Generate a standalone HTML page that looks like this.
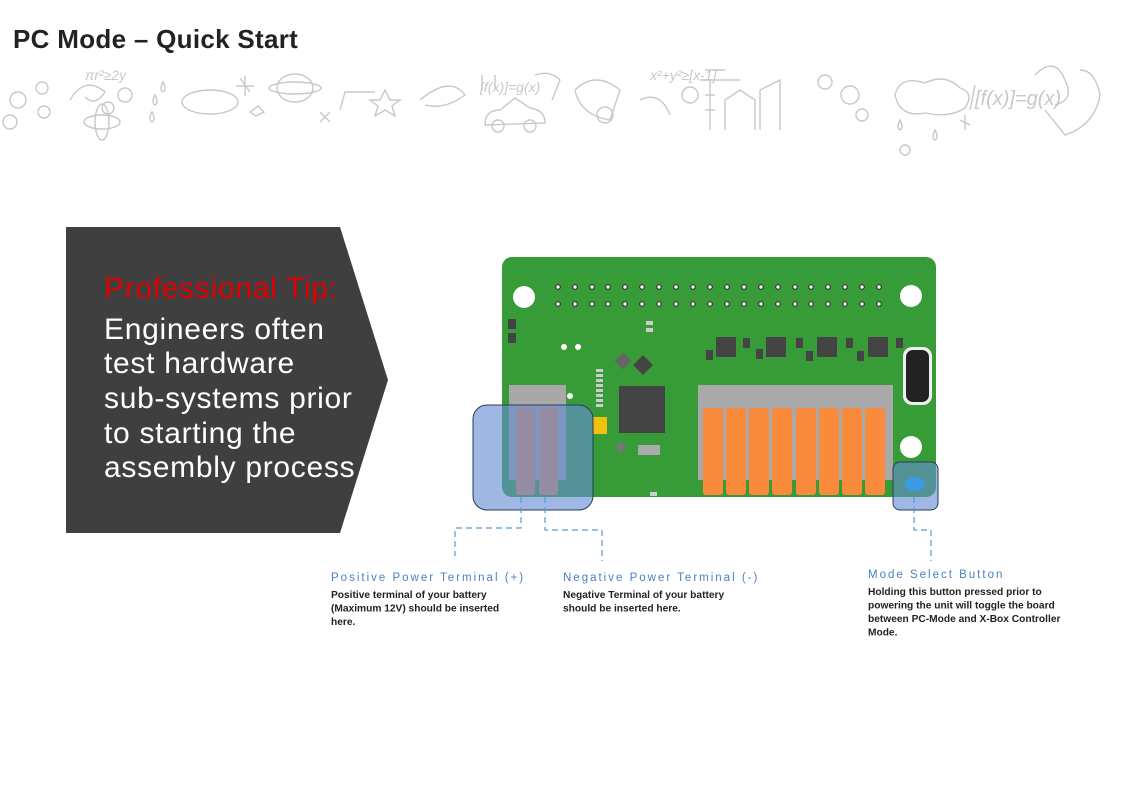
<!DOCTYPE html>
<html><head><meta charset="utf-8"><style>
html,body{margin:0;padding:0;background:#fff;}
svg{display:block;}
</style></head><body>
<svg width="1123" height="795" viewBox="0 0 1123 795" xmlns="http://www.w3.org/2000/svg" font-family="Liberation Sans, sans-serif">
<rect width="1123" height="795" fill="#fff"/>
<text x="13" y="48" font-size="26" font-weight="bold" fill="#222" letter-spacing="0.3">PC Mode – Quick Start</text>
<!-- doodle strip -->
<g fill="none" stroke="#c8c8c8" stroke-width="1.4">
  <circle cx="18" cy="100" r="8"/><circle cx="42" cy="88" r="6"/><circle cx="10" cy="122" r="7"/><circle cx="44" cy="112" r="6"/>
  <path d="M70 100 q15 -25 35 -8 q-10 15 -20 5"/><circle cx="108" cy="108" r="6"/><circle cx="125" cy="95" r="7"/>
  <ellipse cx="102" cy="122" rx="18" ry="7"/><ellipse cx="102" cy="122" rx="7" ry="18"/>
  <path d="M155 95 q-4 8 0 10 q4 -2 0 -10z M163 82 q-4 8 0 10 q4-2 0-10z M152 112 q-4 8 0 10 q4-2 0-10z"/>
  <ellipse cx="210" cy="102" rx="28" ry="12"/><path d="M240 78 l10 14 M245 76 l0 20 M236 86 l18 0"/>
  <path d="M250 112 l8 -6 l6 6 l-8 4z"/><ellipse cx="295" cy="88" rx="18" ry="14"/><ellipse cx="295" cy="88" rx="26" ry="6"/>
  <path d="M320 122 l10 -10 M320 112 l10 10 M340 110 l5 -18 l30 0"/><path d="M385 90 l5 10 l10 0 l-8 6 l3 10 l-10 -6 l-10 6 l3 -10 l-8 -6 l10 0z"/>
  <path d="M420 100 q30 -25 45 -5 q-20 15 -40 10"/><path d="M482 75 l0 15 M495 75 l0 15"/>
  <path d="M485 125 q0 -15 15 -15 l15 -12 l15 10 q15 2 15 15z"/><circle cx="498" cy="126" r="6"/><circle cx="530" cy="126" r="6"/>
  <path d="M535 75 q15 -5 25 5 l-8 20"/><path d="M575 90 q20 -20 45 0 l-10 30 q-30 -5 -35 -30"/><circle cx="605" cy="115" r="8"/>
  <path d="M640 100 q20 -10 30 15"/><circle cx="690" cy="95" r="8"/><path d="M700 80 l40 0 M705 70 l20 0"/>
  <path d="M710 130 l0 -50 M705 95 l10 0 M705 110 l10 0 M725 130 l0 -30 l15 -10 l15 10 l0 30 M760 130 l0 -40 l20 -10 l0 50"/>
  <circle cx="825" cy="82" r="7"/><circle cx="850" cy="95" r="9"/><circle cx="862" cy="115" r="6"/>
  <path d="M895 95 q5 -20 30 -12 q20 -10 35 5 q15 5 5 20 q-15 10 -40 5 q-25 5 -30 -18z"/><circle cx="905" cy="150" r="5"/>
  <path d="M975 85 l-5 25 M1035 75 q20 -20 30 5 q10 20 -10 25 M1045 110 l20 25 q30 -10 35 -40 q-5 -25 -20 -25"/>
  <path d="M935 130 q-4 8 0 10 q4-2 0-10z M900 120 q-4 8 0 10 q4-2 0-10z"/>
  <path d="M960 120 l10 5 M965 115 l0 15"/>
</g>
<g fill="#c8c8c8" font-size="14" font-style="italic">
  <text x="85" y="80">πr²≥2y</text><text x="480" y="92">[f(x)]=g(x)</text><text x="975" y="105" font-size="20">[f(x)]=g(x)</text><text x="650" y="80">x²+y²≥[x-1]</text>
</g>
<!-- tip box -->
<polygon points="66,227 340,227 388,380 340,533 66,533" fill="#3f3f3f"/>
<g font-size="30" fill="#fff" letter-spacing="0.7">
<text x="104" y="298" fill="#e00000">Professional Tip:</text>
<text x="104" y="339">Engineers often</text>
<text x="104" y="373">test hardware</text>
<text x="104" y="408">sub-systems prior</text>
<text x="104" y="443">to starting the</text>
<text x="104" y="477">assembly process</text>
</g>
<!-- board -->
<rect x="502" y="257" width="434" height="240" rx="10" fill="#379b38"/>
<circle cx="524" cy="297" r="11" fill="#fff"/><circle cx="911" cy="296" r="11" fill="#fff"/><circle cx="911" cy="447" r="11" fill="#fff"/>
<g fill="#fff" stroke="#333" stroke-width="1.2">
<circle cx="558" cy="287" r="2.3"/><circle cx="575" cy="287" r="2.3"/><circle cx="592" cy="287" r="2.3"/><circle cx="608" cy="287" r="2.3"/><circle cx="625" cy="287" r="2.3"/><circle cx="642" cy="287" r="2.3"/><circle cx="659" cy="287" r="2.3"/><circle cx="676" cy="287" r="2.3"/><circle cx="693" cy="287" r="2.3"/><circle cx="710" cy="287" r="2.3"/><circle cx="727" cy="287" r="2.3"/><circle cx="744" cy="287" r="2.3"/><circle cx="761" cy="287" r="2.3"/><circle cx="778" cy="287" r="2.3"/><circle cx="795" cy="287" r="2.3"/><circle cx="811" cy="287" r="2.3"/><circle cx="828" cy="287" r="2.3"/><circle cx="845" cy="287" r="2.3"/><circle cx="862" cy="287" r="2.3"/><circle cx="879" cy="287" r="2.3"/>
<circle cx="558" cy="304" r="2.3"/><circle cx="575" cy="304" r="2.3"/><circle cx="592" cy="304" r="2.3"/><circle cx="608" cy="304" r="2.3"/><circle cx="625" cy="304" r="2.3"/><circle cx="642" cy="304" r="2.3"/><circle cx="659" cy="304" r="2.3"/><circle cx="676" cy="304" r="2.3"/><circle cx="693" cy="304" r="2.3"/><circle cx="710" cy="304" r="2.3"/><circle cx="727" cy="304" r="2.3"/><circle cx="744" cy="304" r="2.3"/><circle cx="761" cy="304" r="2.3"/><circle cx="778" cy="304" r="2.3"/><circle cx="795" cy="304" r="2.3"/><circle cx="811" cy="304" r="2.3"/><circle cx="828" cy="304" r="2.3"/><circle cx="845" cy="304" r="2.3"/><circle cx="862" cy="304" r="2.3"/><circle cx="879" cy="304" r="2.3"/>
</g>
<circle cx="564" cy="347" r="3" fill="#fff"/><circle cx="578" cy="347" r="3" fill="#fff"/><circle cx="570" cy="396" r="3" fill="#fff"/>
<g fill="#444">
<rect x="508" y="319" width="8" height="10"/><rect x="508" y="333" width="8" height="10"/>
<rect x="716" y="337" width="20" height="20"/><rect x="766" y="337" width="20" height="20"/><rect x="817" y="337" width="20" height="20"/><rect x="868" y="337" width="20" height="20"/>
<rect x="706" y="350" width="7" height="10"/><rect x="743" y="338" width="7" height="10"/><rect x="756" y="349" width="7" height="10"/><rect x="796" y="338" width="7" height="10"/><rect x="806" y="351" width="7" height="10"/><rect x="846" y="338" width="7" height="10"/><rect x="857" y="351" width="7" height="10"/><rect x="896" y="338" width="7" height="10"/>
<rect x="619" y="386" width="46" height="47"/>
<rect x="617" y="355" width="12" height="12" transform="rotate(45 623 361)" fill="#666"/>
<rect x="636" y="358" width="14" height="14" transform="rotate(45 643 365)"/>
<rect x="617" y="443" width="8" height="8" transform="rotate(45 621 447)" fill="#777"/>
</g>
<g fill="#ccc"><rect x="596" y="369" width="7" height="3"/><rect x="596" y="374" width="7" height="3"/><rect x="596" y="379" width="7" height="3"/><rect x="596" y="384" width="7" height="3"/><rect x="596" y="389" width="7" height="3"/><rect x="596" y="394" width="7" height="3"/><rect x="596" y="399" width="7" height="3"/><rect x="596" y="404" width="7" height="3"/><rect x="646" y="321" width="7" height="4"/><rect x="646" y="328" width="7" height="4"/><rect x="650" y="492" width="7" height="4"/></g>
<rect x="638" y="445" width="22" height="10" fill="#aaa"/>
<rect x="593" y="417" width="14" height="17" fill="#f2c10d"/>
<!-- USB-C -->
<rect x="903" y="347" width="29" height="58" rx="9" fill="#eee"/><rect x="906" y="350" width="23" height="52" rx="7" fill="#222"/>
<!-- left terminal -->
<rect x="509" y="385" width="57" height="95" fill="#a8a8a8"/>
<rect x="516" y="407" width="19" height="88" rx="3" fill="#e48b5a"/><rect x="539" y="407" width="19" height="88" rx="3" fill="#e48b5a"/>
<rect x="473" y="405" width="120" height="105" rx="14" fill="rgba(100,140,210,0.62)" stroke="#2d3b5c" stroke-width="1"/>
<!-- right terminal block -->
<rect x="698" y="385" width="195" height="95" fill="#a9a9a9"/>
<g fill="#f98a3c">
<rect x="703" y="408" width="20" height="87" rx="3"/><rect x="726" y="408" width="20" height="87" rx="3"/><rect x="749" y="408" width="20" height="87" rx="3"/><rect x="772" y="408" width="20" height="87" rx="3"/><rect x="796" y="408" width="20" height="87" rx="3"/><rect x="819" y="408" width="20" height="87" rx="3"/><rect x="842" y="408" width="20" height="87" rx="3"/><rect x="865" y="408" width="20" height="87" rx="3"/>
</g>
<!-- button -->
<rect x="893" y="462" width="45" height="48" rx="7" fill="rgba(100,140,210,0.62)" stroke="#2d3b5c" stroke-width="1"/>
<ellipse cx="915" cy="484" rx="10" ry="7" fill="#3a9be0"/>
<!-- dashed connectors -->
<g fill="none" stroke="#5b9bd5" stroke-width="1.2" stroke-dasharray="6,4">
<path d="M521 497 V528 H455 V556"/><path d="M545 497 V530 H602 V561"/><path d="M914 497 V530 H931 V561"/>
</g>
<g font-size="11.5" fill="#4a7fc1" letter-spacing="2">
<text x="331" y="581">Positive Power Terminal (+)</text>
<text x="563" y="581">Negative Power Terminal (-)</text>
<text x="868" y="578">Mode Select Button</text>
</g>
<g font-size="10.2" font-weight="bold" fill="#222">
<text x="331" y="598">Positive terminal of your battery</text><text x="331" y="611.5">(Maximum 12V) should be inserted</text><text x="331" y="625">here.</text>
<text x="563" y="598">Negative Terminal of your battery</text><text x="563" y="611.5">should be inserted here.</text>
<text x="868" y="595">Holding this button pressed prior to</text><text x="868" y="608.5">powering the unit will toggle the board</text><text x="868" y="622">between PC-Mode and X-Box Controller</text><text x="868" y="635.5">Mode.</text>
</g>
</svg>
</body></html>
